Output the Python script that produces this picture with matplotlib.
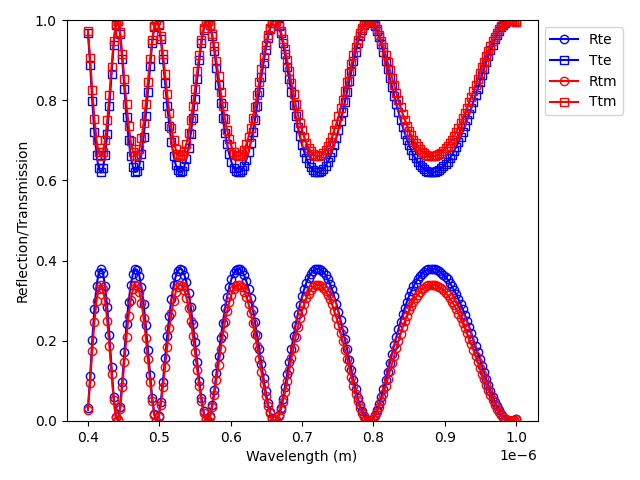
import numpy as np
import matplotlib
matplotlib.use('Agg')
import matplotlib.pyplot as plt

# wavelength grid (m): 201 samples from 0.4 um to 1.0 um
wl_start, wl_stop, n_points = 0.4e-6, 1.0e-6, 201

Rte = [
    0.032, 0.111, 0.201, 0.280, 0.337, 0.370, 0.380, 0.369, 0.336, 0.284,
    0.215, 0.135, 0.061, 0.011, 0.002, 0.035, 0.098, 0.171, 0.241, 0.298,
    0.340, 0.367, 0.379, 0.377, 0.362, 0.333, 0.291, 0.239, 0.178, 0.115,
    0.057, 0.017, 0.000, 0.012, 0.047, 0.098, 0.156, 0.213, 0.263, 0.305,
    0.338, 0.361, 0.375, 0.380, 0.377, 0.365, 0.346, 0.319, 0.284, 0.243,
    0.197, 0.148, 0.100, 0.057, 0.024, 0.004, 0.001, 0.013, 0.040, 0.076,
    0.119, 0.163, 0.206, 0.245, 0.281, 0.310, 0.335, 0.354, 0.368, 0.376,
    0.380, 0.379, 0.373, 0.363, 0.348, 0.329, 0.306, 0.278, 0.248, 0.214,
    0.179, 0.142, 0.107, 0.074, 0.045, 0.022, 0.007, 0.000, 0.003, 0.014,
    0.032, 0.056, 0.085, 0.116, 0.148, 0.180, 0.211, 0.240, 0.266, 0.290,
    0.311, 0.329, 0.345, 0.357, 0.367, 0.374, 0.378, 0.380, 0.379, 0.376,
    0.371, 0.364, 0.354, 0.342, 0.328, 0.311, 0.293, 0.273, 0.251, 0.228,
    0.204, 0.179, 0.153, 0.128, 0.103, 0.080, 0.058, 0.039, 0.024, 0.012,
    0.004, 0.000, 0.001, 0.006, 0.015, 0.027, 0.042, 0.060, 0.080, 0.101,
    0.123, 0.145, 0.167, 0.189, 0.209, 0.229, 0.248, 0.266, 0.283, 0.298,
    0.312, 0.324, 0.336, 0.345, 0.354, 0.361, 0.367, 0.372, 0.376, 0.378,
    0.380, 0.380, 0.379, 0.377, 0.374, 0.370, 0.365, 0.359, 0.353, 0.345,
    0.336, 0.326, 0.316, 0.304, 0.292, 0.279, 0.265, 0.250, 0.235, 0.220,
    0.203, 0.187, 0.171, 0.154, 0.137, 0.121, 0.105, 0.089, 0.075, 0.061,
    0.048, 0.037, 0.027, 0.018, 0.011, 0.006, 0.002, 0.000, 0.000, 0.002,
    0.005,
]

Tte = [
    0.968, 0.889, 0.799, 0.720, 0.663, 0.630, 0.620, 0.631, 0.664, 0.716,
    0.785, 0.865, 0.939, 0.989, 0.998, 0.965, 0.902, 0.829, 0.759, 0.702,
    0.660, 0.633, 0.621, 0.623, 0.638, 0.667, 0.709, 0.761, 0.822, 0.885,
    0.943, 0.983, 1.000, 0.988, 0.953, 0.902, 0.844, 0.787, 0.737, 0.695,
    0.662, 0.639, 0.625, 0.620, 0.623, 0.635, 0.654, 0.681, 0.716, 0.757,
    0.803, 0.852, 0.900, 0.943, 0.976, 0.996, 0.999, 0.987, 0.960, 0.924,
    0.881, 0.837, 0.794, 0.755, 0.719, 0.690, 0.665, 0.646, 0.632, 0.624,
    0.620, 0.621, 0.627, 0.637, 0.652, 0.671, 0.694, 0.722, 0.752, 0.786,
    0.821, 0.858, 0.893, 0.926, 0.955, 0.978, 0.993, 1.000, 0.997, 0.986,
    0.968, 0.944, 0.915, 0.884, 0.852, 0.820, 0.789, 0.760, 0.734, 0.710,
    0.689, 0.671, 0.655, 0.643, 0.633, 0.626, 0.622, 0.620, 0.621, 0.624,
    0.629, 0.636, 0.646, 0.658, 0.672, 0.689, 0.707, 0.727, 0.749, 0.772,
    0.796, 0.821, 0.847, 0.872, 0.897, 0.920, 0.942, 0.961, 0.976, 0.988,
    0.996, 1.000, 0.999, 0.994, 0.985, 0.973, 0.958, 0.940, 0.920, 0.899,
    0.877, 0.855, 0.833, 0.811, 0.791, 0.771, 0.752, 0.734, 0.717, 0.702,
    0.688, 0.676, 0.664, 0.655, 0.646, 0.639, 0.633, 0.628, 0.624, 0.622,
    0.620, 0.620, 0.621, 0.623, 0.626, 0.630, 0.635, 0.641, 0.647, 0.655,
    0.664, 0.674, 0.684, 0.696, 0.708, 0.721, 0.735, 0.750, 0.765, 0.780,
    0.797, 0.813, 0.829, 0.846, 0.863, 0.879, 0.895, 0.911, 0.925, 0.939,
    0.952, 0.963, 0.973, 0.982, 0.989, 0.994, 0.998, 1.000, 1.000, 0.998,
    0.995,
]

Rtm = [
    0.027, 0.095, 0.175, 0.246, 0.299, 0.330, 0.340, 0.329, 0.299, 0.250,
    0.187, 0.116, 0.052, 0.009, 0.002, 0.030, 0.084, 0.148, 0.210, 0.263,
    0.302, 0.328, 0.339, 0.337, 0.322, 0.295, 0.257, 0.208, 0.154, 0.098,
    0.049, 0.014, 0.000, 0.010, 0.040, 0.084, 0.134, 0.185, 0.231, 0.269,
    0.300, 0.322, 0.335, 0.340, 0.337, 0.326, 0.308, 0.282, 0.250, 0.213,
    0.171, 0.128, 0.086, 0.049, 0.020, 0.004, 0.001, 0.011, 0.034, 0.065,
    0.102, 0.140, 0.179, 0.215, 0.247, 0.274, 0.297, 0.315, 0.328, 0.336,
    0.340, 0.339, 0.333, 0.323, 0.309, 0.291, 0.270, 0.245, 0.217, 0.186,
    0.155, 0.122, 0.091, 0.062, 0.038, 0.019, 0.006, 0.000, 0.002, 0.012,
    0.027, 0.048, 0.072, 0.099, 0.128, 0.156, 0.183, 0.210, 0.234, 0.256,
    0.275, 0.292, 0.306, 0.318, 0.327, 0.334, 0.338, 0.340, 0.339, 0.337,
    0.332, 0.324, 0.315, 0.304, 0.291, 0.275, 0.258, 0.240, 0.220, 0.199,
    0.177, 0.155, 0.132, 0.110, 0.088, 0.068, 0.049, 0.033, 0.020, 0.010,
    0.003, 0.000, 0.001, 0.005, 0.012, 0.023, 0.036, 0.051, 0.068, 0.086,
    0.105, 0.125, 0.144, 0.163, 0.182, 0.200, 0.217, 0.234, 0.249, 0.263,
    0.276, 0.287, 0.298, 0.307, 0.315, 0.322, 0.328, 0.332, 0.336, 0.338,
    0.340, 0.340, 0.339, 0.337, 0.335, 0.331, 0.326, 0.320, 0.314, 0.306,
    0.298, 0.289, 0.279, 0.268, 0.257, 0.245, 0.232, 0.219, 0.205, 0.191,
    0.177, 0.162, 0.147, 0.133, 0.118, 0.104, 0.090, 0.076, 0.064, 0.052,
    0.041, 0.031, 0.022, 0.015, 0.009, 0.005, 0.002, 0.000, 0.000, 0.002,
    0.005,
]

Ttm = [
    0.973, 0.905, 0.825, 0.754, 0.701, 0.670, 0.660, 0.671, 0.701, 0.750,
    0.813, 0.884, 0.948, 0.991, 0.998, 0.970, 0.916, 0.852, 0.790, 0.737,
    0.698, 0.672, 0.661, 0.663, 0.678, 0.705, 0.743, 0.792, 0.846, 0.902,
    0.951, 0.986, 1.000, 0.990, 0.960, 0.916, 0.866, 0.815, 0.769, 0.731,
    0.700, 0.678, 0.665, 0.660, 0.663, 0.674, 0.692, 0.718, 0.750, 0.787,
    0.829, 0.872, 0.914, 0.951, 0.980, 0.996, 0.999, 0.989, 0.966, 0.935,
    0.898, 0.860, 0.821, 0.785, 0.753, 0.726, 0.703, 0.685, 0.672, 0.664,
    0.660, 0.661, 0.667, 0.677, 0.691, 0.709, 0.730, 0.755, 0.783, 0.814,
    0.845, 0.878, 0.909, 0.938, 0.962, 0.981, 0.994, 1.000, 0.998, 0.988,
    0.973, 0.952, 0.928, 0.901, 0.872, 0.844, 0.817, 0.790, 0.766, 0.744,
    0.725, 0.708, 0.694, 0.682, 0.673, 0.666, 0.662, 0.660, 0.661, 0.663,
    0.668, 0.676, 0.685, 0.696, 0.709, 0.725, 0.742, 0.760, 0.780, 0.801,
    0.823, 0.845, 0.868, 0.890, 0.912, 0.932, 0.951, 0.967, 0.980, 0.990,
    0.997, 1.000, 0.999, 0.995, 0.988, 0.977, 0.964, 0.949, 0.932, 0.914,
    0.895, 0.875, 0.856, 0.837, 0.818, 0.800, 0.783, 0.766, 0.751, 0.737,
    0.724, 0.713, 0.702, 0.693, 0.685, 0.678, 0.672, 0.668, 0.664, 0.662,
    0.660, 0.660, 0.661, 0.663, 0.665, 0.669, 0.674, 0.680, 0.686, 0.694,
    0.702, 0.711, 0.721, 0.732, 0.743, 0.755, 0.768, 0.781, 0.795, 0.809,
    0.823, 0.838, 0.853, 0.867, 0.882, 0.896, 0.910, 0.924, 0.936, 0.948,
    0.959, 0.969, 0.978, 0.985, 0.991, 0.995, 0.998, 1.000, 1.000, 0.998,
    0.995,
]

wavelength = np.linspace(wl_start, wl_stop, n_points)

fig, ax = plt.subplots(figsize=(6.4, 4.8), dpi=100)
fig.subplots_adjust(left=0.104, right=0.840, bottom=0.123, top=0.958)

ax.plot(wavelength, Rte, 'bo-', mfc='none', label='Rte')
ax.plot(wavelength, Tte, 'bs-', mfc='none', label='Tte')
ax.plot(wavelength, Rtm, 'ro-', mfc='none', label='Rtm')
ax.plot(wavelength, Ttm, 'rs-', mfc='none', label='Ttm')

ax.set_ylim(0, 1)
ax.set_xlabel('Wavelength (m)')
ax.set_ylabel('Reflection/Transmission')
ax.legend(loc='upper left', bbox_to_anchor=(1, 1))

fig.savefig('out.png', dpi=100)
